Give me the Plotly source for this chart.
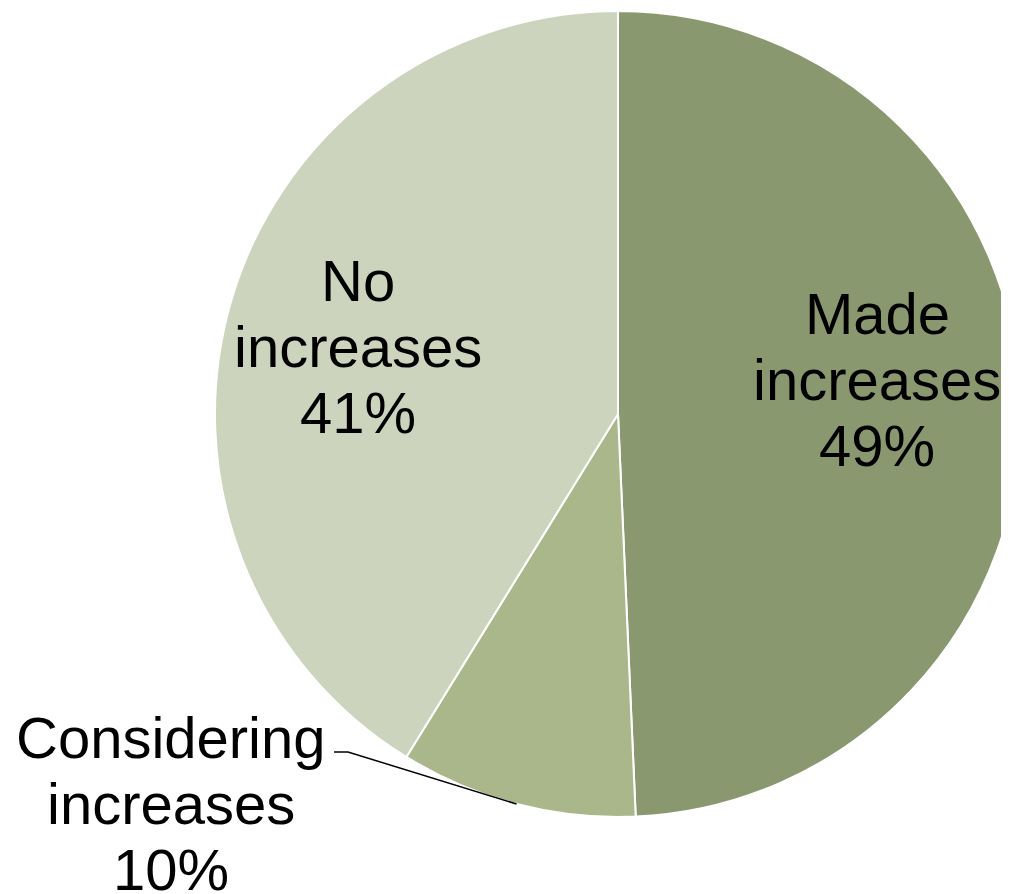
import math
import plotly.graph_objects as go

# ---- data ----
labels = ["Made increases", "Considering increases", "No increases"]
values = [49.3, 9.5, 41.2]
colors = ["#8A9870", "#A9B78B", "#CCD4BD"]

# ---- layout constants (pixels, page offset of 8px compensated) ----
OFF = 8
W, H = 1030, 894
CX, CY, R = 618 - OFF, 414 - OFF, 403
FONT = "Liberation Sans, Arial, sans-serif"
FS = 58
LINE = 66
# label block centers (x, y of middle line) in page pixels
label_pos = {
    "Made increases": (877, 379),
    "Considering increases": (171, 803),
    "No increases": (358, 347),
}

fig = go.Figure(go.Pie(
    labels=labels, values=values, sort=False, direction="clockwise", rotation=0,
    marker=dict(colors=colors, line=dict(color="white", width=2)),
    textinfo="none", hoverinfo="label+percent", showlegend=False,
    domain=dict(x=[(CX - R) / W, (CX + R) / W],
                y=[(H - CY - R) / H, (H - CY + R) / H]),
))

def px2paper(x, y):
    return x / W, 1 - y / H

total = sum(values)
annotations = []
for lab, val in zip(labels, values):
    pct = math.floor(100 * val / total + 0.5)
    lines = lab.split(" ") + [f"{pct}%"]
    bx, by = label_pos[lab]
    bx -= OFF
    by -= OFF
    n = len(lines)
    for i, t in enumerate(lines):
        yy = by + (i - (n - 1) / 2) * LINE
        xp, yp = px2paper(bx, yy)
        annotations.append(dict(
            text=t, x=xp, y=yp, xref="paper", yref="paper",
            xanchor="center", yanchor="middle", showarrow=False,
            font=dict(family=FONT, size=FS, color="black"),
        ))

# leader line for the small slice: from the slice's outer edge mid-angle to the label
cum = 0
shapes = []
for lab, val in zip(labels, values):
    mid = (cum + val / 2) / total * 2 * math.pi
    cum += val
    if lab == "Considering increases":
        ex = CX + R * math.sin(mid)
        ey = CY - R * math.cos(mid)
        pts = [(ex, ey), (348 - OFF, 752 - OFF), (334 - OFF, 752 - OFF)]
        path = "M " + " L ".join(
            f"{px2paper(x, y)[0]},{px2paper(x, y)[1]}" for x, y in pts)
        shapes.append(dict(type="path", xref="paper", yref="paper", path=path,
                           line=dict(color="black", width=1.5)))

fig.update_layout(
    width=W, height=H, margin=dict(l=0, r=0, t=0, b=0),
    paper_bgcolor="white", plot_bgcolor="white",
    annotations=annotations, shapes=shapes,
)

fig.write_html("out.html")
